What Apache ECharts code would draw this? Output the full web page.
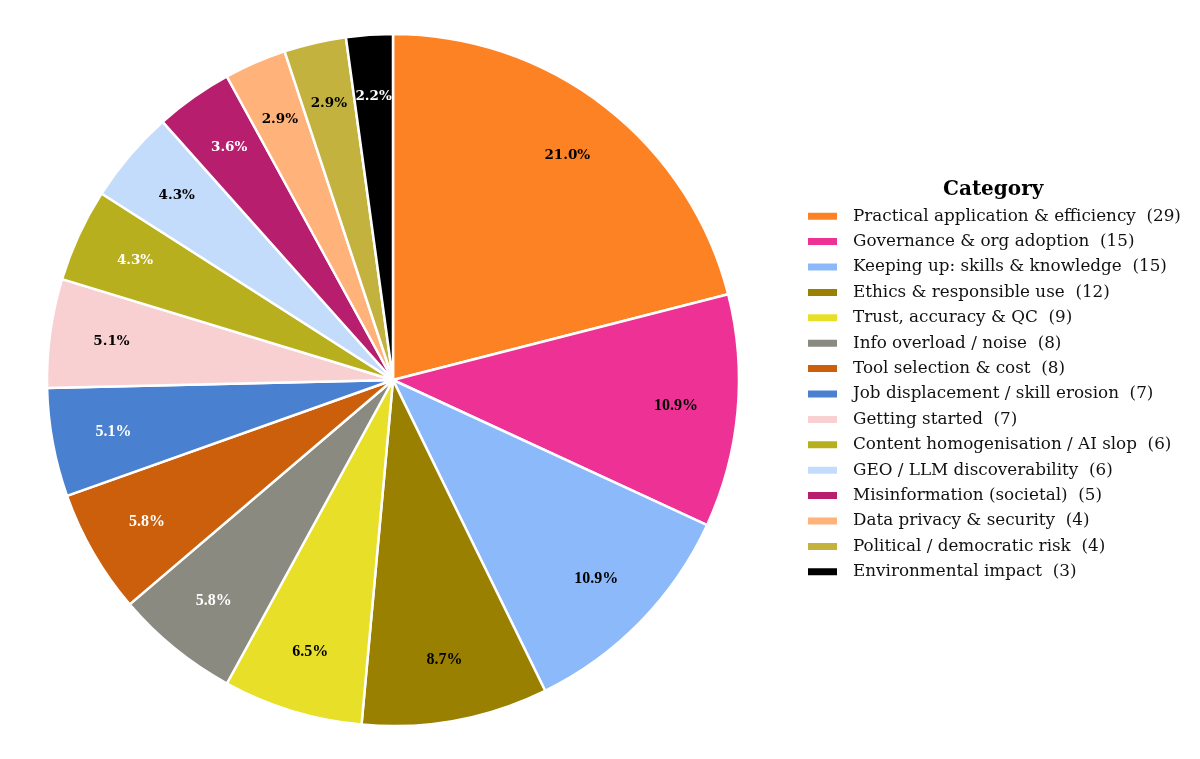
<!DOCTYPE html>
<html>
  <head>
    <meta charset="utf-8" />
    <title>Category pie</title>
    <script src="https://cdn.jsdelivr.net/npm/echarts@6/dist/echarts.min.js"></script>
    <style>
      html, body { margin: 0; padding: 0; background: #fff; }
      #main { width: 1200px; height: 759px; }
    </style>
  </head>
  <body>
    <div id="main"></div>
    <script>
      // data
      var categories = [
        'Practical application & efficiency',
        'Governance & org adoption',
        'Keeping up: skills & knowledge',
        'Ethics & responsible use',
        'Trust, accuracy & QC',
        'Info overload / noise',
        'Tool selection & cost',
        'Job displacement / skill erosion',
        'Getting started',
        'Content homogenisation / AI slop',
        'GEO / LLM discoverability',
        'Misinformation (societal)',
        'Data privacy & security',
        'Political / democratic risk',
        'Environmental impact'
      ];
      var counts = [29, 15, 15, 12, 9, 8, 8, 7, 7, 6, 6, 5, 4, 4, 3];
      var colors = [
        '#fd8224', '#ee3194', '#8bb9fa', '#9a8000', '#e8e028',
        '#8a8a80', '#cc5f0c', '#4a80d0', '#f8d0d2', '#b8af1e',
        '#c4dcfb', '#b81e6e', '#ffb27a', '#c4b23e', '#000000'
      ];
      var whiteLabel = [false, false, false, false, false, true, true, true,
                        false, true, false, true, false, false, true];
      // bottom half labels were set in a narrower serif
      var narrowLabel = [false, true, true, true, true, true, true, true,
                         false, false, false, false, false, false, false];

      var total = counts.reduce(function (a, b) { return a + b; }, 0);

      var myChart = echarts.init(document.getElementById('main'));

      var center = [393, 380];
      var R = 346;

      var sliceData = categories.map(function (name, i) {
        return { name: name, value: counts[i], itemStyle: { color: colors[i] } };
      });
      var labelData = categories.map(function (name, i) {
        return {
          name: name,
          value: counts[i],
          label: {
            color: whiteLabel[i] ? '#ffffff' : '#000000',
            fontFamily: narrowLabel[i] ? 'Liberation Serif' : 'DejaVu Serif',
            fontSize: narrowLabel[i] ? 16 : 13.5
          }
        };
      });

      var option = {
        animation: false,
        graphic: [{
          type: 'text',
          left: 993 - 50,
          top: 180,
          style: {
            text: 'Category',
            x: 50,
            textAlign: 'center',
            font: 'bold 20px "DejaVu Serif"',
            fill: '#000'
          }
        }],
        legend: {
          orient: 'vertical',
          left: 801,
          top: 198.5,
          itemWidth: 31,
          itemHeight: 9,
          itemGap: 0,
          icon: 'rect',
          selectedMode: false,
          data: categories,
          formatter: function (name) {
            return name + '  (' + counts[categories.indexOf(name)] + ')';
          },
          textStyle: {
            fontFamily: 'DejaVu Serif',
            fontSize: 16.8,
            color: '#111',
            lineHeight: 25.4,
            padding: [0, 0, 0, 10]
          }
        },
        series: [{
          // coloured slices
          type: 'pie',
          center: center,
          radius: [0, R],
          startAngle: 90,
          clockwise: true,
          silent: true,
          label: { show: false },
          labelLine: { show: false },
          itemStyle: { borderColor: '#ffffff', borderWidth: 2.5 },
          data: sliceData
        }, {
          // transparent ring only used to put the percentages at ~0.81 R
          type: 'pie',
          center: center,
          radius: [R * 0.625, R],
          startAngle: 90,
          clockwise: true,
          silent: true,
          legendHoverLink: false,
          itemStyle: { color: 'rgba(0,0,0,0)', borderWidth: 0 },
          label: {
            show: true,
            position: 'inside',
            fontWeight: 'bold',
            formatter: function (p) {
              return (p.value / total * 100).toFixed(1) + '%';
            }
          },
          labelLine: { show: false },
          data: labelData
        }]
      };
      myChart.setOption(option);
    </script>
  </body>
</html>
